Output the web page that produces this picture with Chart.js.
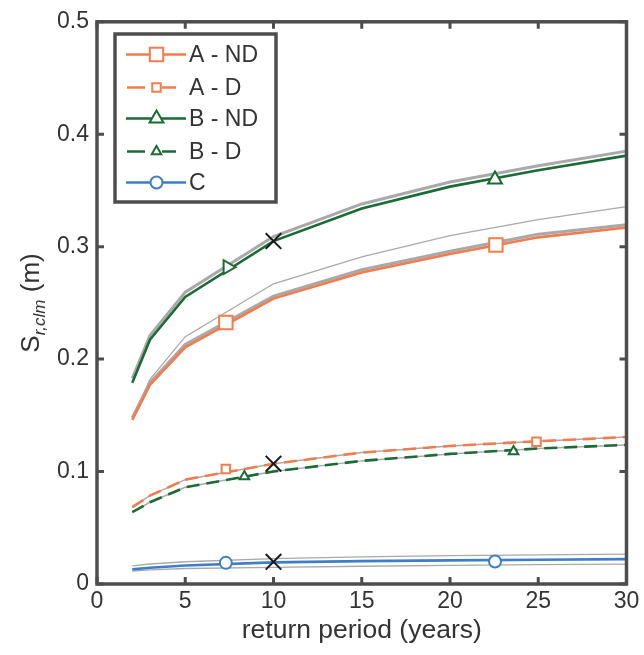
<!DOCTYPE html>
<html>
<head>
<meta charset="utf-8">
<script src="https://cdn.jsdelivr.net/npm/chart.js@4"></script>
<style>
  html, body { margin: 0; padding: 0; background: #fff; }
  canvas { display: block; }
</style>
</head>
<body>
<canvas id="chart" width="644" height="655"></canvas>
<script>
// return periods (years) at which the curves were evaluated
const years = [2, 3, 5, 10, 15, 20, 25, 30];

const aNonDet      = [0.146, 0.177, 0.2105, 0.2538, 0.277, 0.2935, 0.3083, 0.3171];
const aNonDetRef   = [0.148, 0.179, 0.213, 0.256, 0.2795, 0.296, 0.311, 0.3195];
const aNonDetUpper = [0.147, 0.182, 0.220, 0.267, 0.291, 0.3098, 0.324, 0.3357];
const bNonDet      = [0.179, 0.2173, 0.2553, 0.305, 0.334, 0.3534, 0.368, 0.381];
const bNonDetRef   = [0.183, 0.221, 0.2595, 0.309, 0.338, 0.3575, 0.372, 0.385];
const aDet         = [0.0683, 0.0786, 0.0928, 0.1069, 0.1169, 0.1228, 0.127, 0.1307];
const bDet         = [0.0639, 0.0727, 0.086, 0.1001, 0.1095, 0.1157, 0.1205, 0.1237];
const cVals        = [0.013, 0.0145, 0.0165, 0.0192, 0.0203, 0.021, 0.0216, 0.0221];
const cUpper       = [0.0162, 0.0178, 0.0198, 0.0225, 0.0241, 0.0252, 0.0259, 0.0265];
const cLower       = [0.0115, 0.0125, 0.0138, 0.0148, 0.0158, 0.0166, 0.0172, 0.0177];

// marker positions [x, y]
const markANonDet = [[7.3, 0.2326], [22.6, 0.3015]];
const markBNonDet = [[7.4, 0.2818], [22.55, 0.3598]];
const markADet    = [[7.3, 0.1022], [24.9, 0.1266]];
const markBDet    = [[8.35, 0.0957], [23.6, 0.1178]];
const markC       = [[7.3, 0.0188], [22.55, 0.020]];
const markCross   = [[10, 0.305], [10, 0.107], [10, 0.0197]];

const xTicks = [0, 5, 10, 15, 20, 25, 30];
const yTicks = [0, 0.1, 0.2, 0.3, 0.4, 0.5];

const ORANGE = "#f27c4c";
const GREEN = "#1b6b34";
const BLUE = "#3d7ec9";
const GRAY = "#a9a9a9";
const AXIS = "#4d4d4d";
const TEXT = "#333333";
const FONT = "'Liberation Sans', Arial, sans-serif";

const pts = (ys) => years.map((x, i) => ({ x, y: ys[i] }));
const mpts = (arr) => arr.map(([x, y]) => ({ x, y }));

function line(data, color, width, order, dash) {
  return {
    data: pts(data),
    showLine: true,
    borderColor: color,
    borderWidth: width,
    borderDash: dash || [],
    pointRadius: 0,
    tension: 0,
    order,
  };
}

function marks(data, color, style, radius, rotation) {
  return {
    data: mpts(data),
    showLine: false,
    pointStyle: style,
    pointRadius: radius,
    pointRotation: rotation || 0,
    pointBorderWidth: 2,
    pointBorderColor: color,
    pointBackgroundColor: style === "crossRot" ? color : "#fff",
    order: 1,
  };
}

const legendItems = [
  { label: "A - ND", color: ORANGE, dash: false, style: "rect", radius: 9.5 },
  { label: "A - D", color: ORANGE, dash: true, style: "rect", radius: 6 },
  { label: "B - ND", color: GREEN, dash: false, style: "triangle", radius: 8 },
  { label: "B - D", color: GREEN, dash: true, style: "triangle", radius: 5.5 },
  { label: "C", color: BLUE, dash: false, style: "circle", radius: 6 },
];

const framePlugin = {
  id: "frame",
  afterDatasetsDraw(chart) {
    const { ctx, chartArea: a, scales } = chart;
    ctx.save();
    ctx.strokeStyle = AXIS;
    ctx.lineWidth = 3.5;
    ctx.lineCap = "square";
    ctx.strokeRect(a.left, a.top, a.right - a.left, a.bottom - a.top);
    ctx.lineWidth = 3;
    ctx.lineCap = "butt";
    const len = 7;
    ctx.beginPath();
    xTicks.forEach((v) => {
      const px = scales.x.getPixelForValue(v);
      ctx.moveTo(px, a.bottom); ctx.lineTo(px, a.bottom - len);
      ctx.moveTo(px, a.top); ctx.lineTo(px, a.top + len);
    });
    yTicks.forEach((v) => {
      const py = scales.y.getPixelForValue(v);
      ctx.moveTo(a.left, py); ctx.lineTo(a.left + len, py);
      ctx.moveTo(a.right, py); ctx.lineTo(a.right - len, py);
    });
    ctx.stroke();

    // axis titles
    ctx.fillStyle = TEXT;
    ctx.textBaseline = "alphabetic";
    ctx.textAlign = "center";
    ctx.font = "26.5px " + FONT;
    ctx.fillText("return period (years)", (a.left + a.right) / 2, 638);

    ctx.translate(39, 303);
    ctx.rotate(-Math.PI / 2);
    ctx.textAlign = "left";
    const big = "26px " + FONT;
    const sub = "italic 17px " + FONT;
    ctx.font = big;
    const wS = ctx.measureText("S").width;
    const wM = ctx.measureText(" (m)").width;
    ctx.font = sub;
    const wSub = ctx.measureText("r,clm").width;
    let x0 = -(wS + wSub + wM) / 2;
    ctx.font = big;
    ctx.fillText("S", x0, 0);
    ctx.font = sub;
    ctx.fillText("r,clm", x0 + wS, 6);
    ctx.font = big;
    ctx.fillText(" (m)", x0 + wS + wSub, 0);
    ctx.restore();
  },
  afterDraw(chart) {
    const { ctx } = chart;
    ctx.save();
    ctx.fillStyle = "#fff";
    ctx.fillRect(115, 34, 161, 168);
    ctx.strokeStyle = AXIS;
    ctx.lineWidth = 3.5;
    ctx.strokeRect(115, 34, 161, 168);
    const rows = [54.5, 87.5, 118.5, 151.5, 182.5];
    legendItems.forEach((it, i) => {
      const y = rows[i];
      ctx.strokeStyle = it.color;
      ctx.lineWidth = 2.5;
      ctx.setLineDash([]);
      ctx.beginPath();
      if (it.dash) {
        ctx.moveTo(127, y); ctx.lineTo(145, y);
        ctx.moveTo(162, y); ctx.lineTo(176, y);
      } else {
        ctx.moveTo(126, y); ctx.lineTo(186, y);
      }
      ctx.stroke();
      ctx.fillStyle = "#fff";
      ctx.lineWidth = 2;
      Chart.helpers.drawPoint(ctx, {
        pointStyle: it.style, radius: it.radius, rotation: 0, borderWidth: 2,
      }, 156.5, y);
      ctx.fillStyle = TEXT;
      ctx.font = "23px " + FONT;
      ctx.textBaseline = "middle";
      ctx.textAlign = "left";
      ctx.fillText(it.label, 189, y + 1);
    });
    ctx.restore();
  },
};

new Chart(document.getElementById("chart"), {
  type: "scatter",
  data: {
    datasets: [
      line(aNonDetUpper, GRAY, 1.3, 20),
      line(aNonDetRef, GRAY, 3, 19),
      line(bNonDetRef, GRAY, 3, 19),
      line(aDet, GRAY, 1.5, 19),
      line(bDet, GRAY, 1.5, 19),
      line(cUpper, GRAY, 1.3, 19),
      line(cLower, GRAY, 1.3, 19),
      line(aNonDet, ORANGE, 2.6, 10),
      line(bNonDet, GREEN, 2.6, 10),
      line(aDet, ORANGE, 2.6, 10, [13, 7]),
      line(bDet, GREEN, 2.6, 10, [13, 7]),
      line(cVals, BLUE, 2.6, 10),
      marks(markANonDet, ORANGE, "rect", 9.5),
      marks(markBNonDet, GREEN, "triangle", 8, [90, 0]),
      marks(markADet, ORANGE, "rect", 6),
      marks(markBDet, GREEN, "triangle", 5.5),
      marks(markC, BLUE, "circle", 6),
      marks(markCross, "#1a1a1a", "crossRot", 11),
    ],
  },
  options: {
    responsive: false,
    animation: false,
    devicePixelRatio: 1,
    layout: { padding: { top: 18, right: 17.5, left: 0, bottom: 0 } },
    plugins: { legend: { display: false }, tooltip: { enabled: false } },
    scales: {
      x: {
        type: "linear",
        min: 0,
        max: 30,
        afterBuildTicks: (s) => { s.ticks = xTicks.map((v) => ({ value: v })); },
        afterFit: (s) => { s.height = 71; },
        grid: { display: false, drawTicks: false },
        border: { display: false },
        ticks: { color: TEXT, padding: 4, font: { size: 23, family: FONT } },
      },
      y: {
        type: "linear",
        min: 0,
        max: 0.5,
        afterBuildTicks: (s) => { s.ticks = yTicks.map((v) => ({ value: v })); },
        afterFit: (s) => { s.width = 97; },
        grid: { display: false, drawTicks: false },
        border: { display: false },
        ticks: {
          color: TEXT,
          padding: 8,
          font: { size: 23, family: FONT },
          callback: (v) => String(v),
        },
      },
    },
  },
  plugins: [framePlugin],
});
</script>
</body>
</html>
